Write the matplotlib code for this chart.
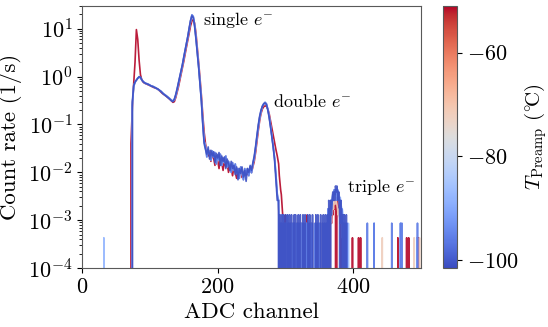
import matplotlib
matplotlib.use("Agg")
import matplotlib.pyplot as plt
import numpy as np

plt.rcParams['font.family'] = 'serif'
plt.rcParams['font.serif'] = ['cmr10']
plt.rcParams['mathtext.fontset'] = 'cm'
plt.rcParams['axes.unicode_minus'] = False
plt.rcParams['axes.formatter.use_mathtext'] = True

# spectrum body, every 2nd ADC channel 66..288 (rate in 1/s), 10 channels per row
body_ch = list(range(66, 289, 2))

rate_cold_a = [0, 0, 0, 0, 0.30, 0.65, 0.78, 0.85, 0.92, 1.0,
               0.98, 0.86, 0.78, 0.74, 0.72, 0.70, 0.68, 0.66, 0.63, 0.62,
               0.60, 0.58, 0.57, 0.55, 0.52, 0.49, 0.46, 0.43, 0.41, 0.39,
               0.37, 0.35, 0.33, 0.31, 0.30, 0.34, 0.42, 0.55, 0.75, 1.0,
               1.35, 1.8, 2.6, 3.6, 5.0, 7.0, 10.5, 15.0, 18.5, 17.0,
               11.0, 6.0, 3.0, 1.5, 0.65, 0.30, 0.10, 0.040, 0.030, 0.024,
               0.034, 0.019, 0.029, 0.022, 0.027, 0.016, 0.025, 0.020, 0.026, 0.014,
               0.022, 0.017, 0.021, 0.012, 0.019, 0.015, 0.011, 0.017, 0.012, 0.014,
               0.0090, 0.013, 0.0070, 0.012, 0.0095, 0.013, 0.0080, 0.011, 0.0065, 0.012,
               0.0100, 0.014, 0.0110, 0.016, 0.022, 0.035, 0.06, 0.10, 0.15, 0.20,
               0.24, 0.27, 0.28, 0.26, 0.20, 0.14, 0.09, 0.055, 0.033, 0.018,
               0.007, 0.0026]

rate_cold_b = [0, 0, 0, 0, 0.25, 0.62, 0.76, 0.84, 0.93, 0.97,
               0.95, 0.85, 0.79, 0.75, 0.72, 0.71, 0.69, 0.66, 0.64, 0.63,
               0.61, 0.59, 0.56, 0.54, 0.52, 0.50, 0.47, 0.44, 0.42, 0.40,
               0.38, 0.36, 0.34, 0.32, 0.31, 0.33, 0.40, 0.52, 0.70, 0.95,
               1.3, 1.75, 2.5, 3.5, 4.9, 6.9, 10.0, 14.5, 19.5, 18.0,
               12.0, 6.5, 3.2, 1.6, 0.70, 0.32, 0.11, 0.045, 0.034, 0.021,
               0.030, 0.025, 0.018, 0.028, 0.021, 0.026, 0.015, 0.023, 0.018, 0.024,
               0.014, 0.020, 0.016, 0.022, 0.013, 0.017, 0.014, 0.010, 0.016, 0.011,
               0.015, 0.0095, 0.012, 0.0075, 0.013, 0.0098, 0.0070, 0.012, 0.0088, 0.0120,
               0.0085, 0.013, 0.0098, 0.015, 0.020, 0.032, 0.055, 0.09, 0.14, 0.19,
               0.24, 0.27, 0.29, 0.27, 0.21, 0.15, 0.095, 0.058, 0.035, 0.020,
               0.009, 0.0035]

rate_warm = [0, 0, 0, 0.04, 0.22, 0.7, 2.0, 9.6, 6.0, 2.2,
             1.1, 0.85, 0.77, 0.73, 0.71, 0.69, 0.67, 0.65, 0.63, 0.61,
             0.59, 0.58, 0.56, 0.54, 0.51, 0.48, 0.45, 0.43, 0.41, 0.39,
             0.37, 0.35, 0.33, 0.31, 0.29, 0.30, 0.36, 0.46, 0.60, 0.82,
             1.1, 1.5, 2.1, 3.0, 4.2, 5.8, 8.2, 11.5, 14.5, 15.5,
             13.0, 8.0, 4.0, 1.9, 0.9, 0.4, 0.16, 0.07, 0.04, 0.026,
             0.022, 0.028, 0.017, 0.024, 0.020, 0.014, 0.022, 0.018, 0.012, 0.020,
             0.016, 0.011, 0.018, 0.013, 0.016, 0.010, 0.014, 0.012, 0.0085, 0.013,
             0.010, 0.0075, 0.012, 0.0092, 0.011, 0.0078, 0.010, 0.0088, 0.011, 0.0090,
             0.0095, 0.011, 0.010, 0.013, 0.017, 0.026, 0.045, 0.075, 0.12, 0.17,
             0.21, 0.235, 0.245, 0.24, 0.21, 0.17, 0.12, 0.085, 0.06, 0.042,
             0.03, 0.022]

# high channel tail, raw counts per channel 290..499, 15 channels per row
tail_ch = list(range(290, 500))

counts_red = [35, 20, 14, 10, 8, 5, 3, 0, 2, 0, 3, 0, 2, 0, 0,
              2, 0, 0, 0, 2, 0, 0, 0, 2, 0, 0, 0, 0, 2, 0,
              0, 0, 0, 2, 0, 0, 0, 0, 0, 0, 0, 0, 3, 0, 0,
              0, 0, 0, 2, 0, 0, 0, 0, 0, 2, 0, 0, 0, 0, 0,
              0, 0, 2, 0, 0, 0, 0, 0, 0, 0, 0, 2, 0, 0, 2,
              0, 2, 3, 2, 4, 3, 5, 4, 6, 5, 0, 3, 7, 5, 4,
              3, 2, 2, 0, 2, 0, 0, 1, 0, 0, 0, 0, 0, 0, 0,
              0, 0, 0, 0, 1, 0, 0, 0, 0, 0, 0, 0, 0, 1, 0,
              0, 1, 0, 0, 0, 0, 0, 0, 0, 0, 0, 0, 0, 0, 0,
              0, 0, 0, 0, 0, 0, 0, 0, 0, 0, 0, 0, 0, 0, 0,
              0, 0, 0, 0, 0, 0, 0, 0, 0, 0, 0, 0, 0, 0, 0,
              0, 0, 0, 0, 0, 0, 0, 0, 0, 0, 0, 1, 0, 0, 0,
              0, 0, 0, 0, 0, 0, 0, 0, 0, 1, 0, 0, 1, 0, 0,
              0, 0, 0, 0, 0, 0, 0, 0, 0, 0, 0, 1, 1, 0, 0]

counts_peach = [3, 2, 0, 2, 0, 1, 2, 0, 0, 2, 0, 0, 2, 0, 1,
                0, 2, 0, 0, 2, 0, 1, 0, 2, 0, 0, 2, 0, 0, 2,
                0, 0, 2, 0, 0, 2, 0, 0, 2, 0, 1, 0, 2, 0, 0,
                0, 2, 0, 0, 2, 0, 0, 2, 0, 0, 0, 2, 0, 0, 0,
                2, 0, 0, 0, 2, 0, 0, 2, 0, 0, 2, 0, 0, 2, 0,
                2, 3, 2, 4, 3, 5, 4, 6, 5, 7, 6, 5, 4, 3, 4,
                3, 2, 3, 2, 1, 2, 0, 1, 0, 0, 1, 0, 0, 0, 0,
                0, 0, 0, 0, 0, 0, 0, 0, 0, 0, 0, 0, 0, 0, 0,
                0, 0, 0, 0, 0, 0, 0, 0, 0, 0, 0, 0, 0, 0, 0,
                0, 0, 0, 0, 0, 0, 0, 0, 0, 0, 0, 0, 0, 0, 0,
                0, 0, 0, 1, 0, 0, 0, 0, 0, 0, 0, 0, 0, 0, 0,
                0, 0, 0, 0, 0, 0, 0, 0, 0, 0, 0, 0, 0, 0, 0,
                0, 0, 0, 0, 0, 0, 0, 0, 0, 0, 0, 0, 0, 0, 0,
                0, 0, 0, 0, 0, 1, 0, 0, 0, 0, 0, 0, 0, 1, 0]

counts_light = [4, 3, 2, 0, 2, 0, 3, 0, 0, 2, 0, 2, 0, 3, 0,
                2, 0, 0, 2, 0, 2, 0, 0, 2, 0, 2, 0, 0, 2, 0,
                2, 0, 2, 0, 0, 0, 2, 0, 0, 2, 0, 0, 2, 0, 0,
                2, 0, 0, 2, 0, 2, 0, 0, 0, 2, 0, 0, 2, 0, 2,
                0, 2, 0, 0, 0, 2, 0, 0, 2, 0, 2, 0, 3, 2, 4,
                3, 4, 5, 6, 5, 8, 7, 9, 8, 10, 9, 11, 9, 8, 7,
                6, 7, 5, 4, 4, 3, 2, 3, 2, 0, 2, 0, 0, 2, 0,
                0, 0, 0, 0, 0, 0, 0, 0, 0, 0, 0, 0, 0, 0, 0,
                0, 0, 0, 0, 0, 0, 0, 0, 0, 0, 0, 0, 0, 0, 0,
                0, 0, 0, 0, 0, 0, 2, 0, 0, 0, 0, 0, 0, 0, 0,
                0, 0, 0, 0, 0, 0, 0, 0, 0, 0, 0, 0, 0, 0, 0,
                0, 0, 0, 0, 0, 0, 0, 0, 0, 0, 0, 0, 0, 0, 0,
                2, 0, 0, 0, 0, 0, 0, 0, 0, 0, 0, 0, 0, 0, 0,
                0, 0, 0, 0, 0, 0, 0, 0, 0, 1, 0, 0, 0, 0, 0]

counts_blue = [3, 0, 1, 0, 1, 0, 0, 1, 0, 0, 1, 0, 0, 0, 1,
               0, 0, 1, 0, 0, 0, 1, 0, 1, 0, 0, 0, 1, 0, 0,
               1, 0, 0, 0, 1, 0, 0, 1, 0, 0, 0, 1, 0, 0, 0,
               1, 0, 0, 0, 1, 0, 0, 0, 0, 1, 0, 0, 1, 0, 0,
               0, 1, 0, 0, 0, 1, 0, 0, 1, 0, 0, 1, 0, 2, 0,
               2, 1, 3, 2, 3, 4, 3, 5, 4, 5, 4, 3, 5, 4, 3,
               2, 3, 1, 2, 1, 0, 1, 0, 1, 0, 0, 1, 0, 0, 0,
               0, 0, 0, 0, 0, 0, 0, 0, 0, 0, 0, 0, 0, 0, 0,
               0, 0, 0, 0, 0, 0, 0, 0, 0, 0, 0, 1, 0, 0, 0,
               0, 0, 0, 0, 0, 0, 1, 0, 0, 0, 0, 0, 0, 0, 0,
               0, 0, 0, 0, 0, 0, 0, 0, 0, 0, 0, 0, 0, 0, 0,
               0, 0, 1, 0, 0, 0, 0, 0, 0, 0, 0, 0, 0, 0, 0,
               1, 0, 1, 0, 0, 0, 0, 0, 0, 0, 0, 0, 0, 0, 0,
               0, 0, 0, 0, 0, 0, 0, 0, 0, 0, 1, 0, 0, 0, 0]

counts_dark = [2, 0, 1, 0, 0, 1, 0, 1, 0, 0, 1, 0, 0, 1, 0,
               0, 1, 0, 0, 1, 0, 0, 0, 1, 0, 1, 0, 0, 0, 1,
               0, 0, 1, 0, 0, 0, 1, 0, 0, 1, 0, 0, 0, 1, 0,
               0, 1, 0, 0, 0, 1, 0, 0, 0, 0, 1, 0, 0, 1, 0,
               0, 0, 1, 0, 0, 0, 1, 0, 0, 1, 0, 0, 1, 0, 2,
               1, 0, 2, 1, 2, 3, 2, 3, 2, 4, 3, 4, 3, 2, 3,
               2, 0, 2, 1, 0, 1, 0, 1, 0, 0, 1, 0, 0, 0, 0] + [0] * 105

# stray low channel event (light blue run)
stray_ch = [31, 32, 33]
stray_counts = [0, 1, 0]

temps = [-51, -72, -88, -96, -101]
bodies = [rate_warm, rate_cold_b, rate_cold_b, rate_cold_b, rate_cold_a]
tails = [counts_red, counts_peach, counts_light, counts_blue, counts_dark]
rate_per_count = [4.3e-4, 4.3e-4, 4.3e-4, 8.7e-4, 1.3e-3]

t_min, t_max = -101.5, -51

fig = plt.figure(figsize=(5.48, 3.27), dpi=100)
ax = fig.add_axes([0.150, 0.180, 0.618, 0.802])
cax = fig.add_axes([0.808, 0.180, 0.026, 0.802])

cmap = plt.get_cmap('coolwarm')
norm = matplotlib.colors.Normalize(vmin=t_min, vmax=t_max)

for i in range(len(temps)):
    x = list(body_ch) + tail_ch
    y = list(bodies[i]) + [c * rate_per_count[i] for c in tails[i]]
    if temps[i] == -88:
        x = stray_ch + x
        y = [c * rate_per_count[i] for c in stray_counts] + y
    ax.plot(x, y, color=cmap(norm(temps[i])), lw=1.2, alpha=0.9)

ax.set_yscale('log')
ax.set_xlim(0, 500)
ax.set_ylim(1e-4, 30)
ax.set_xticks([0, 200, 400])
ax.set_xlabel('ADC channel', fontsize=16.5)
ax.set_ylabel('Count rate (1/s)', fontsize=16.5)
ax.tick_params(labelsize=16)
for s in ax.spines.values():
    s.set_color('0.35')

ax.text(179, 15.5, r'single $e^{-}$', fontsize=13, va='center', ha='left')
ax.text(282, 0.30, r'double $e^{-}$', fontsize=13, va='center', ha='left')
ax.text(391, 4.9e-3, r'triple $e^{-}$', fontsize=13, va='center', ha='left')

sm = matplotlib.cm.ScalarMappable(norm=norm, cmap=cmap)
cb = fig.colorbar(sm, cax=cax, ticks=[-100, -80, -60])
cb.outline.set_edgecolor('0.35')
cb.ax.tick_params(labelsize=16)
cb.set_label(r'$T_\mathrm{Preamp}\ (^{\circ}\!\mathrm{C})$', fontsize=15, labelpad=3)

fig.savefig('out.png', dpi=100)
